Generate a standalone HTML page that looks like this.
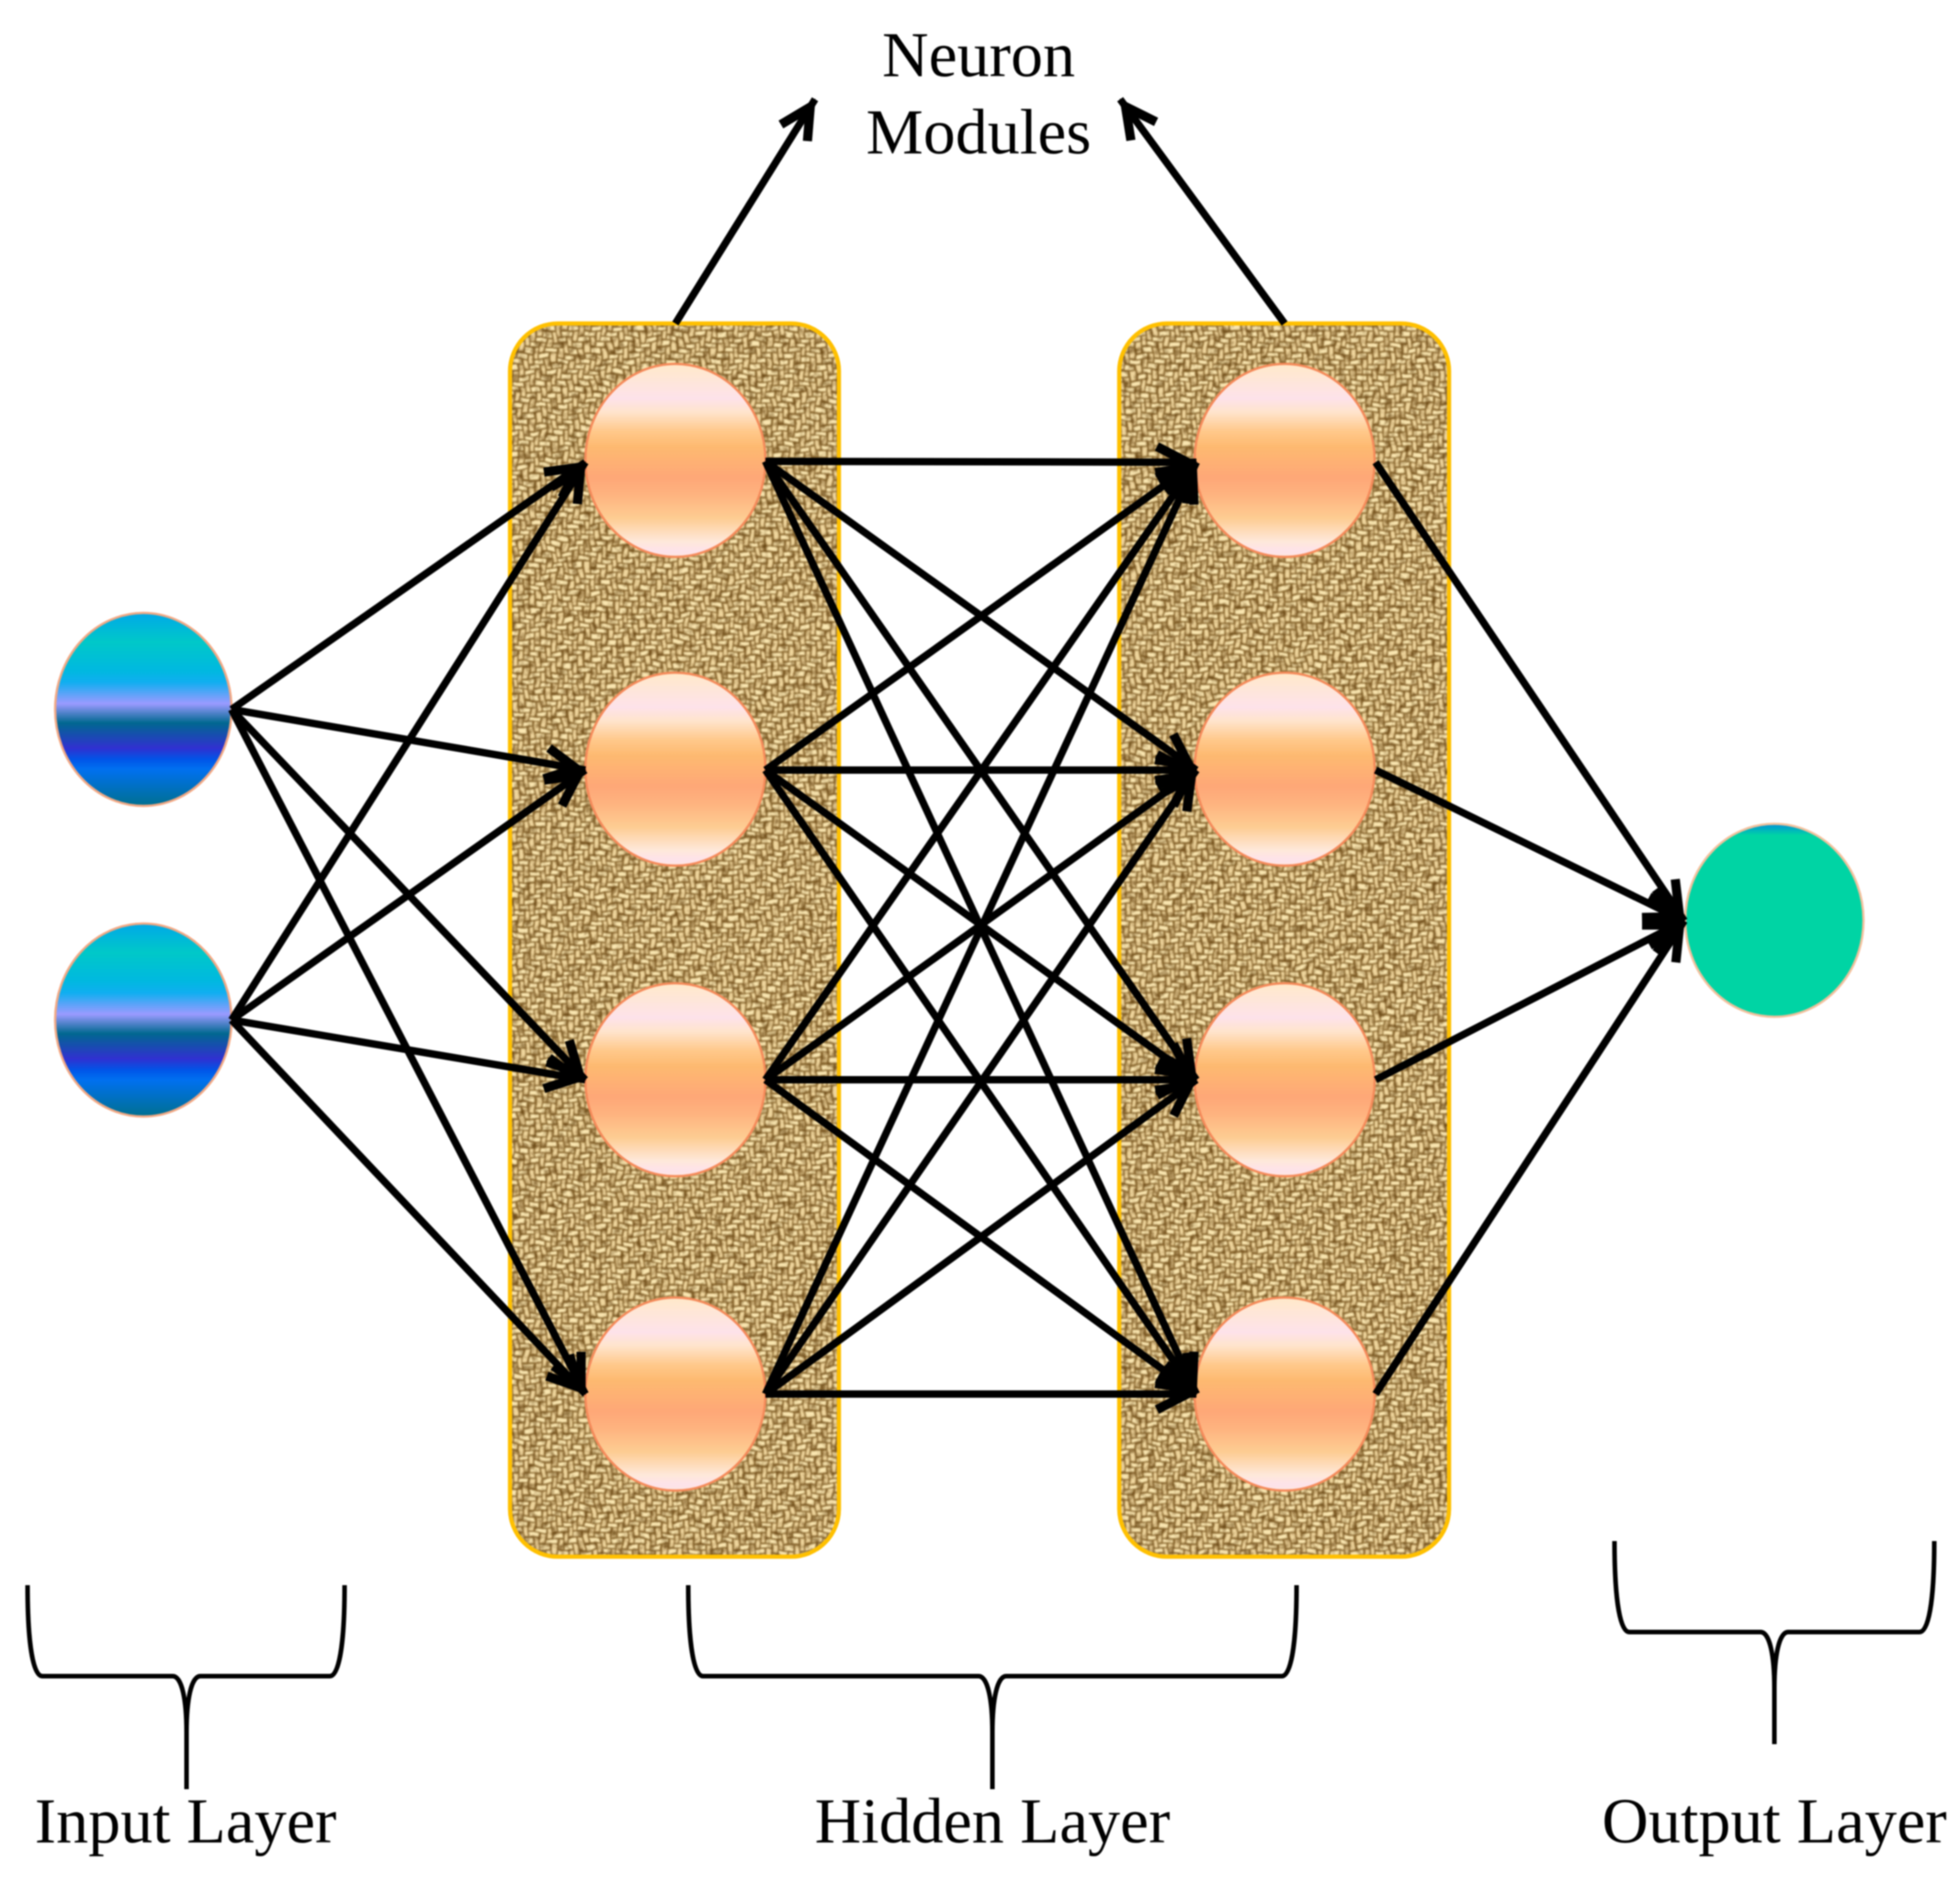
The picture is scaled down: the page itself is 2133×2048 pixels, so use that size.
<!DOCTYPE html>
<html><head><meta charset="utf-8"><title>Neural network</title>
<style>html,body{margin:0;padding:0;background:#fff}svg{display:block;filter:blur(.7px)}text{font-family:"Liberation Serif",serif;font-size:70px;fill:#000;text-anchor:middle}</style></head>
<body>
<svg xmlns="http://www.w3.org/2000/svg" width="2133" height="2048" viewBox="0 0 2133 2048">
<defs>
<linearGradient id="hid" x1="0" y1="0" x2="0" y2="1">
<stop offset="0" stop-color="#ffe9c9"/><stop offset=".18" stop-color="#fde2ea"/><stop offset=".25" stop-color="#ffe4cc"/><stop offset=".35" stop-color="#ffc88a"/><stop offset=".43" stop-color="#fdb970"/><stop offset=".59" stop-color="#fea777"/><stop offset=".68" stop-color="#feb37f"/><stop offset=".8" stop-color="#fdcc92"/><stop offset=".92" stop-color="#fee8da"/><stop offset=".97" stop-color="#fde2ea"/><stop offset="1" stop-color="#fde6e0"/>
</linearGradient>
<linearGradient id="inp" x1="0" y1="0" x2="0" y2="1">
<stop offset="0" stop-color="#00a8e8"/><stop offset=".15" stop-color="#00c8c8"/><stop offset=".3" stop-color="#00b8e0"/><stop offset=".36" stop-color="#10aef0"/><stop offset=".47" stop-color="#9a9aff"/><stop offset=".57" stop-color="#006890"/><stop offset=".7" stop-color="#3030d0"/><stop offset=".76" stop-color="#0055e8"/><stop offset=".81" stop-color="#0070f0"/><stop offset="1" stop-color="#007090"/>
</linearGradient>
<linearGradient id="out" x1="0" y1="0" x2="0" y2="1">
<stop offset="0" stop-color="#0090d8"/><stop offset=".06" stop-color="#00d4a4"/><stop offset="1" stop-color="#00d4a4"/>
</linearGradient>
<pattern id="weave" width="24" height="24" patternUnits="userSpaceOnUse">
<rect width="24" height="24" fill="#8a6830"/>
<g fill="#fae6b0">
<rect x="13" y="1" width="10" height="4.4"/><rect x="7" y="7" width="10" height="4.4"/><rect x="1" y="13" width="10" height="4.4"/><rect x="19" y="19" width="5" height="4.4"/><rect x="0" y="19" width="5" height="4.4"/>
</g>
<g fill="#efd59c">
<rect x="1" y="1" width="4.4" height="10"/><rect x="7" y="19" width="4.4" height="5"/><rect x="7" y="0" width="4.4" height="5"/><rect x="13" y="13" width="4.4" height="10"/><rect x="19" y="7" width="4.4" height="10"/>
</g>
</pattern>
<filter id="burlap" x="0" y="0" width="100%" height="100%" color-interpolation-filters="sRGB">
<feTurbulence type="fractalNoise" baseFrequency="0.05" numOctaves="1" seed="3" result="n"/>
<feDisplacementMap in="SourceGraphic" in2="n" scale="10" xChannelSelector="R" yChannelSelector="G" result="d"/>
<feTurbulence type="fractalNoise" baseFrequency="0.14" numOctaves="2" seed="8" result="n2"/>
<feColorMatrix in="n2" type="matrix" values="0 0 0 0 .38  0 0 0 0 .24  0 0 0 0 .04  2 0 0 0 -.92" result="spots"/>
<feMerge result="m"><feMergeNode in="d"/><feMergeNode in="spots"/></feMerge>
<feGaussianBlur in="m" stdDeviation=".7"/>
</filter>
<clipPath id="p1"><rect x="555" y="352" width="358" height="1342" rx="52"/></clipPath>
<clipPath id="p2"><rect x="1218" y="352" width="359" height="1342" rx="52"/></clipPath>
<marker id="a" markerUnits="userSpaceOnUse" markerWidth="80" markerHeight="80" refX="60" refY="40" orient="auto" overflow="visible">
<path d="M17,23 L50,40 L17,57" fill="none" stroke="#000" stroke-width="10"/>
</marker>
</defs>
<rect width="2133" height="2048" fill="#fff"/>

<g clip-path="url(#p1)"><rect x="540" y="340" width="390" height="1370" fill="#bd9f68"/><rect x="530" y="330" width="410" height="1390" fill="url(#weave)" filter="url(#burlap)"/></g>
<g clip-path="url(#p2)"><rect x="1205" y="340" width="390" height="1370" fill="#bd9f68"/><rect x="1195" y="330" width="410" height="1390" fill="url(#weave)" filter="url(#burlap)"/></g>
<rect x="555" y="352" width="358" height="1342" rx="52" fill="none" stroke="#ffc000" stroke-width="4.5"/>
<rect x="1218" y="352" width="359" height="1342" rx="52" fill="none" stroke="#ffc000" stroke-width="4.5"/>

<g stroke="#f58a5a" stroke-width="2.5" fill="url(#hid)">
<ellipse cx="735" cy="501" rx="98" ry="105"/><ellipse cx="735" cy="837" rx="98" ry="105"/><ellipse cx="735" cy="1175" rx="98" ry="105"/><ellipse cx="735" cy="1517" rx="98" ry="105"/>
<ellipse cx="1398" cy="501" rx="98" ry="105"/><ellipse cx="1398" cy="837" rx="98" ry="105"/><ellipse cx="1398" cy="1175" rx="98" ry="105"/><ellipse cx="1398" cy="1517" rx="98" ry="105"/>
</g>
<g stroke="#f2a884" stroke-width="2.5" fill="url(#inp)">
<ellipse cx="156" cy="772" rx="96" ry="105"/><ellipse cx="156" cy="1110" rx="96" ry="105"/>
</g>
<ellipse cx="1931" cy="1001.5" rx="97" ry="105" fill="url(#out)" stroke="#f2c09c" stroke-width="2.5"/>

<g stroke="#000" stroke-width="8" marker-end="url(#a)" fill="none">
<line x1="252" y1="772" x2="637" y2="503"/><line x1="252" y1="772" x2="637" y2="838"/><line x1="252" y1="772" x2="637" y2="1175"/><line x1="252" y1="772" x2="637" y2="1517"/>
<line x1="252" y1="1110" x2="637" y2="503"/><line x1="252" y1="1110" x2="637" y2="838"/><line x1="252" y1="1110" x2="637" y2="1175"/><line x1="252" y1="1110" x2="637" y2="1517"/>

<line x1="833" y1="502" x2="1302" y2="503"/><line x1="833" y1="502" x2="1302" y2="838"/><line x1="833" y1="502" x2="1302" y2="1175"/><line x1="833" y1="502" x2="1302" y2="1517"/>
<line x1="833" y1="838" x2="1302" y2="503"/><line x1="833" y1="838" x2="1302" y2="838"/><line x1="833" y1="838" x2="1302" y2="1175"/><line x1="833" y1="838" x2="1302" y2="1517"/>
<line x1="833" y1="1175" x2="1302" y2="503"/><line x1="833" y1="1175" x2="1302" y2="838"/><line x1="833" y1="1175" x2="1302" y2="1175"/><line x1="833" y1="1175" x2="1302" y2="1517"/>
<line x1="833" y1="1517" x2="1302" y2="503"/><line x1="833" y1="1517" x2="1302" y2="838"/><line x1="833" y1="1517" x2="1302" y2="1175"/><line x1="833" y1="1517" x2="1302" y2="1517"/>

<line x1="1497" y1="503" x2="1833" y2="1002"/><line x1="1497" y1="838" x2="1833" y2="1002"/><line x1="1497" y1="1175" x2="1833" y2="1002"/><line x1="1497" y1="1517" x2="1833" y2="1002"/>

<line x1="735" y1="352" x2="887" y2="108"/><line x1="1398" y1="352" x2="1219" y2="108"/>
</g>

<g fill="none" stroke="#000" stroke-width="5">
<path d="M30,1725 C30,1775 34,1824 46,1824 H188 C198,1824 203,1850 203,1885 V1947"/>
<path d="M375,1725 C375,1775 371,1824 359,1824 H218 C208,1824 203,1850 203,1885"/>
<path d="M749,1725 C749,1775 753,1824 765,1824 H1065 C1075,1824 1080,1850 1080,1885 V1947"/>
<path d="M1411,1725 C1411,1775 1407,1824 1395,1824 H1095 C1085,1824 1080,1850 1080,1885"/>
<path d="M1757,1677 C1757,1727 1761,1776 1773,1776 H1916 C1926,1776 1931,1802 1931,1837 V1898"/>
<path d="M2105,1677 C2105,1727 2101,1776 2089,1776 H1946 C1936,1776 1931,1802 1931,1837"/>
</g>

<text x="1065" y="83">Neuron</text>
<text x="1065" y="167">Modules</text>
<text x="202" y="2005">Input Layer</text>
<text x="1080" y="2005">Hidden Layer</text>
<text x="1931" y="2005">Output Layer</text>
</svg>
</body></html>
